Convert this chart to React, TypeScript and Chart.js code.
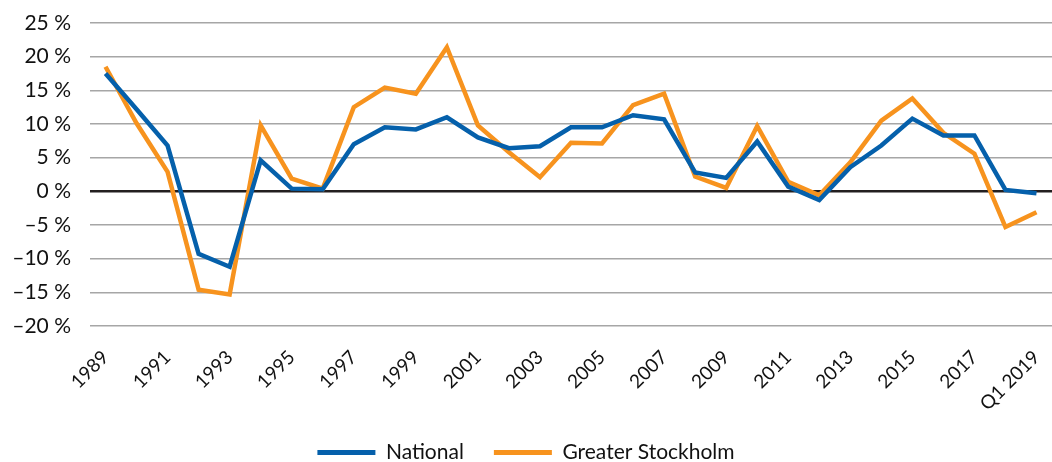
import React, { useEffect, useRef } from "react";
import { Chart, registerables } from "chart.js";

Chart.register(...registerables);

const categories: string[] = [
  "1989", "1990", "1991", "1992", "1993", "1994", "1995", "1996", "1997", "1998",
  "1999", "2000", "2001", "2002", "2003", "2004", "2005", "2006", "2007", "2008",
  "2009", "2010", "2011", "2012", "2013", "2014", "2015", "2016", "2017", "2018",
  "Q1 2019",
];

const national: number[] = [
  17.5, 12.2, 6.8, -9.3, -11.2, 4.6, 0.4, 0.3, 7.0, 9.5,
  9.2, 11.0, 8.0, 6.4, 6.7, 9.5, 9.5, 11.3, 10.7, 2.8,
  2.0, 7.4, 0.7, -1.3, 3.6, 6.8, 10.8, 8.3, 8.3, 0.2,
  -0.3,
];

const stockholm: number[] = [
  18.5, 10.1, 2.9, -14.6, -15.3, 9.8, 1.9, 0.4, 12.5, 15.4,
  14.5, 21.4, 9.8, 5.8, 2.1, 7.2, 7.1, 12.8, 14.5, 2.2,
  0.5, 9.7, 1.4, -0.6, 4.3, 10.5, 13.8, 8.7, 5.6, -5.3,
  -3.1,
];

const yTicks: number[] = [-20, -15, -10, -5, 0, 5, 10, 15, 20, 25];

const BLUE = "#0560ab";
const ORANGE = "#f7931e";
const FONT = "Lato, 'DejaVu Sans', sans-serif";

export default function App() {
  const ref = useRef<HTMLCanvasElement | null>(null);

  useEffect(() => {
    document.body.style.margin = "0";
    const canvas = ref.current;
    if (!canvas) return;
    const chart = new Chart(canvas, {
      type: "line",
      data: {
        labels: categories,
        datasets: [
          {
            label: "National",
            data: national,
            borderColor: BLUE,
            backgroundColor: BLUE,
            borderWidth: 4.5,
            pointRadius: 0,
            tension: 0,
          },
          {
            label: "Greater Stockholm",
            data: stockholm,
            borderColor: ORANGE,
            backgroundColor: ORANGE,
            borderWidth: 4.5,
            pointRadius: 0,
            tension: 0,
          },
        ],
      },
      options: {
        animation: false,
        responsive: false,
        devicePixelRatio: 1,
        layout: { padding: { left: 0, right: 0, top: 23, bottom: 0 } },
        plugins: {
          tooltip: { enabled: false },
          legend: {
            position: "bottom",
            maxHeight: 50,
            labels: {
              color: "#111",
              font: { family: FONT, size: 21 },
              boxWidth: 58,
              boxHeight: 5,
              padding: 30,
              generateLabels: (c: any) =>
                c.data.datasets.map((d: any, i: number) => ({
                  text: d.label,
                  fillStyle: d.borderColor,
                  strokeStyle: d.borderColor,
                  lineWidth: 0,
                  hidden: false,
                  datasetIndex: i,
                  fontColor: "#111",
                })),
            },
          },
        },
        scales: {
          x: {
            type: "category",
            offset: true,
            grid: { display: false },
            border: { display: false },
            ticks: {
              autoSkip: false,
              maxRotation: 45,
              minRotation: 45,
              color: "#111",
              padding: 12,
              font: { family: FONT, size: 19 },
              callback: (_v: any, i: number) => (i % 2 === 0 ? categories[i] : ""),
            },
            afterFit: (s: any) => {
              s.height = 86;
              s.paddingLeft = 0;
              s.paddingRight = 0;
            },
          },
          y: {
            min: -20,
            max: 25,
            afterBuildTicks: (s: any) => {
              s.ticks = yTicks.map((v) => ({ value: v }));
            },
            border: { display: false },
            grid: {
              drawTicks: false,
              color: (ctx: any) => (ctx.tick && ctx.tick.value === 0 ? "#231f20" : "#a6a6a6"),
              lineWidth: (ctx: any) => (ctx.tick && ctx.tick.value === 0 ? 2.5 : 1.5),
            },
            ticks: {
              color: "#111",
              padding: 19,
              font: { family: FONT, size: 21 },
              callback: (v: any) => {
                const n = Number(v);
                return (n < 0 ? "\u2013" + Math.abs(n) : String(n)) + " %";
              },
            },
            afterFit: (s: any) => {
              s.width = 90;
              s.paddingTop = 0;
              s.paddingBottom = 0;
            },
          },
        },
      },
    });
    return () => chart.destroy();
  }, []);

  return (
    <div style={{ width: 1052, height: 462 }}>
      <canvas ref={ref} width={1052} height={462} style={{ display: "block" }} />
    </div>
  );
}
